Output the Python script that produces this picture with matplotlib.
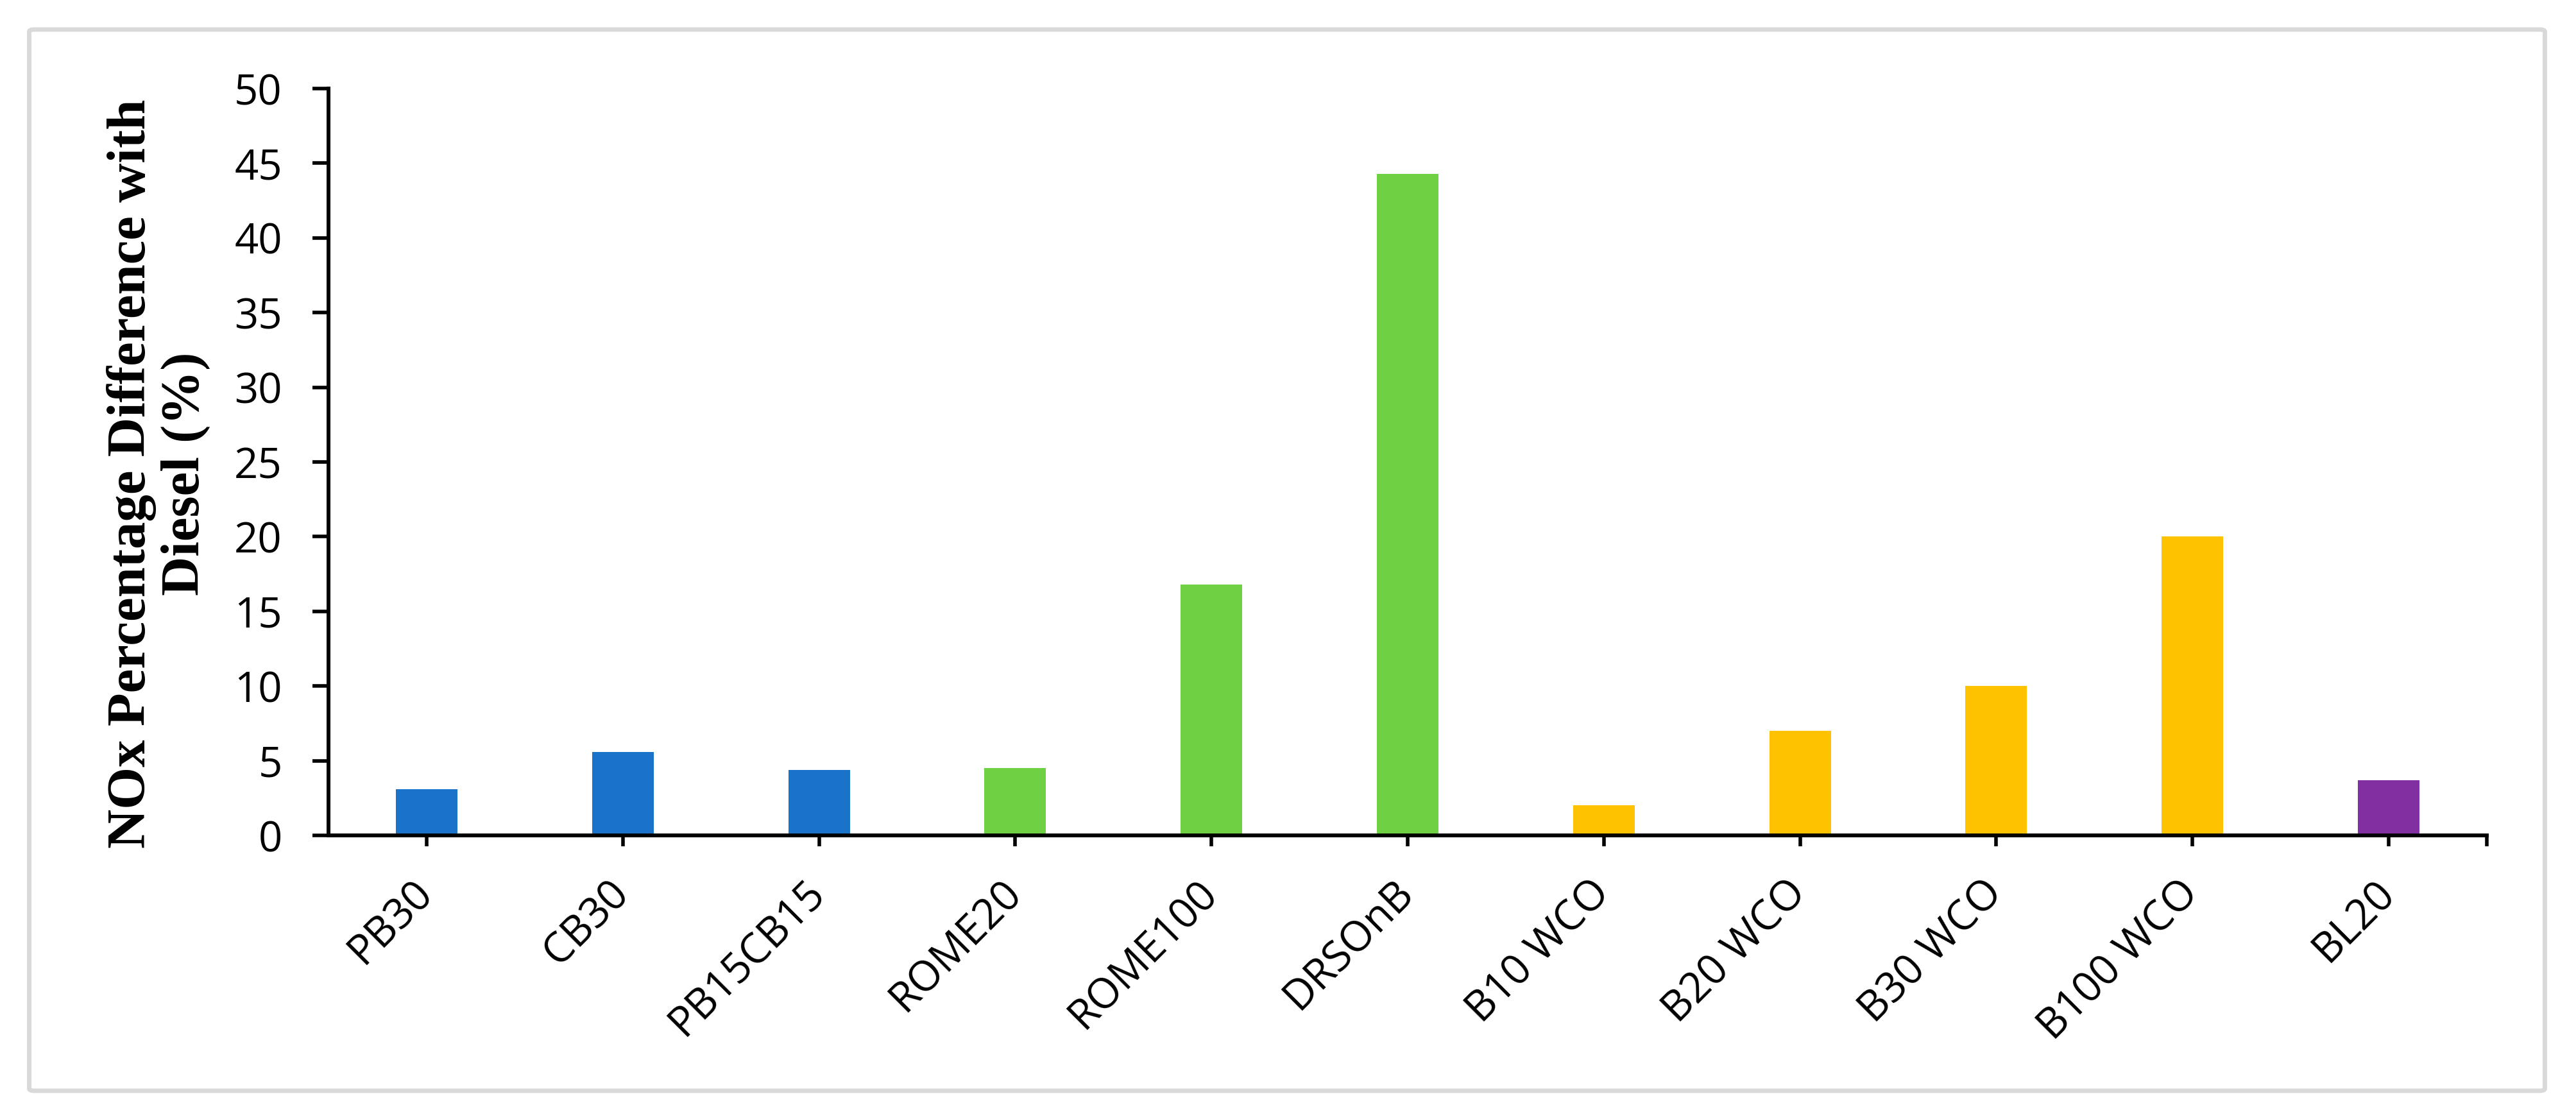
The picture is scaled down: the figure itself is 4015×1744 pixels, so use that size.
import matplotlib
matplotlib.use('Agg')
import matplotlib.pyplot as plt
from matplotlib.patches import FancyBboxPatch
import numpy as np

# values
categories = ['PB30', 'CB30', 'PB15CB15', 'ROME20', 'ROME100', 'DRSOnB',
              'B10 WCO', 'B20 WCO', 'B30 WCO', 'B100 WCO', 'BL20']
nox_diff = [3.1, 5.6, 4.4, 4.5, 16.8, 44.3, 2.0, 7.0, 10.0, 20.0, 3.7]
groups = ['blue', 'blue', 'blue', 'green', 'green', 'green',
          'yellow', 'yellow', 'yellow', 'yellow', 'purple']
y_ticks = [0, 5, 10, 15, 20, 25, 30, 35, 40, 45, 50]

palette = {'blue': '#1A73C9', 'green': '#70D044',
           'yellow': '#FFC200', 'purple': '#8030A0'}

W, H, DPI = 4015, 1744, 100
fig = plt.figure(figsize=(W / DPI, H / DPI), dpi=DPI)

# axes box in pixels: x 512..3876, y 138..1302 (from top)
ax = fig.add_axes([512 / W, 1 - 1302 / H, (3876 - 512) / W, (1302 - 138) / H])

x = np.arange(len(categories))
ax.bar(x, nox_diff, width=0.314, color=[palette[g] for g in groups],
       edgecolor='none', zorder=2)

ax.set_xlim(-0.5, len(categories) - 0.5)
ax.set_ylim(0, 50)

for side in ['top', 'right']:
    ax.spines[side].set_visible(False)
for side in ['left', 'bottom']:
    ax.spines[side].set_linewidth(4.3)
    ax.spines[side].set_color('black')
    ax.spines[side].set_zorder(3)

tick_font = {'family': 'Open Sans', 'size': 47}

ax.set_yticks(y_ticks)
ax.set_yticklabels([str(v) for v in y_ticks], fontdict=tick_font)
ax.tick_params(axis='y', direction='out', length=18, width=4, pad=34)

ax.set_xticks(x)
ax.set_xticklabels(categories, fontdict=tick_font, rotation=45,
                   ha='right', va='center', rotation_mode='anchor')
ax.set_xticks([len(categories) - 0.5], minor=True)
ax.tick_params(axis='x', which='both', direction='out', length=12, width=4, pad=46)

# two-line bold serif axis title
fig.text(247 / W, 1 - 738 / H, 'NOx Percentage Difference with\nDiesel (%)',
         rotation=90, ha='center', va='center', multialignment='center',
         family='Liberation Serif', fontweight='bold', fontsize=61,
         linespacing=1.12)

# light grey frame around the whole chart
frame = FancyBboxPatch((45.5 / W, 1 - 1700 / H),
                       (3966.5 - 45.5) / W, (1700 - 46) / H,
                       boxstyle='round,pad=0,rounding_size=0.002',
                       transform=fig.transFigure, facecolor='none',
                       edgecolor='#D9D9D9', linewidth=5)
fig.patches.append(frame)

fig.savefig('out.png', dpi=DPI, facecolor='white')
